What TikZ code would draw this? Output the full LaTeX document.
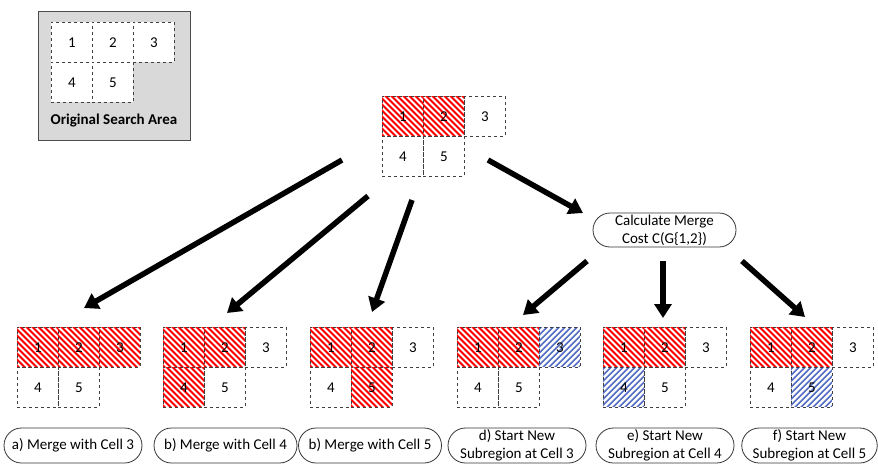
\documentclass[tikz,border=0pt]{standalone}
\usepackage{fontspec}
\setmainfont{Carlito}
\usetikzlibrary{arrows.meta,shapes.misc}
\newcommand\mygrid[8]{%
  \node[#4] (#1-1) at (#2,#3) {1};
  \node[#5] (#1-2) at (#2+41,#3) {2};
  \node[#6] (#1-3) at (#2+82,#3) {3};
  \node[#7] (#1-4) at (#2,#3+40) {4};
  \node[#8] (#1-5) at (#2+41,#3+40) {5};
}
\definecolor{hatchblue}{RGB}{85,110,195}
\begin{document}
\begin{tikzpicture}[x=1pt,y=-1pt,
  cell/.style={draw=black!75, dashed, line width=0.8pt, minimum width=41pt, minimum height=40pt,
    inner sep=0pt, anchor=north west, font=\fontsize{15}{18}\selectfont},
  wcell/.style={cell, fill=white},
  redcell/.style={cell, fill=red, path picture={
    \foreach \k in {-72,-66,...,72}
      \draw[white, line width=1.8pt, solid]
        ([xshift=\k pt]path picture bounding box.center) +(-32,-32) -- +(32,32);}},
  bluecell/.style={cell, fill=hatchblue, path picture={
    \foreach \k in {-72,-66,...,72}
      \draw[white, line width=2.3pt, solid]
        ([xshift=\k pt]path picture bounding box.center) +(-32,32) -- +(32,-32);}},
  lbl/.style={rounded rectangle, draw=black!80, line width=0.8pt, minimum width=140pt,
    minimum height=35pt, inner sep=1pt, align=center, font=\fontsize{15}{18}\selectfont},
  bigarrow/.style={line width=5.5pt, -{Triangle[width=17pt,length=14pt]}},
]
\useasboundingbox (0,0) rectangle (878,464);

% original search area
\node[draw=black!70, line width=1pt, fill=black!15, minimum width=152pt, minimum height=129pt,
  inner sep=0pt, anchor=north west] (orig) at (38,11) {};
\mygrid{o}{51}{22}{wcell}{wcell}{wcell}{wcell}{wcell}
\node[font=\fontsize{15}{18}\selectfont\bfseries] (origtxt) at (114,121) {Original Search Area};

% top grid
\mygrid{t}{382}{96}{redcell}{redcell}{cell}{cell}{cell}

% calculate box
\node[lbl, minimum width=145pt, minimum height=34pt] (calc) at (664.5,230) {Calculate Merge\\Cost C(G\{1,2\})};

% bottom grids
\mygrid{a}{17}{327}{redcell}{redcell}{redcell}{cell}{cell}
\mygrid{b}{163}{327}{redcell}{redcell}{cell}{redcell}{cell}
\mygrid{c}{310}{327}{redcell}{redcell}{cell}{cell}{redcell}
\mygrid{d}{457}{327}{redcell}{redcell}{bluecell}{cell}{cell}
\mygrid{e}{603}{327}{redcell}{redcell}{cell}{bluecell}{cell}
\mygrid{f}{750}{327}{redcell}{redcell}{cell}{cell}{bluecell}

% labels
\node[lbl] (la) at (73,445.5) {a) Merge with Cell 3};
\node[lbl, minimum width=145pt] (lb) at (225.5,445.5) {b) Merge with Cell 4};
\node[lbl, minimum width=145pt] (lc) at (370,445.5) {b) Merge with Cell 5};
\node[lbl] (ld) at (517,445.5) {d) Start New\\Subregion at Cell 3};
\node[lbl] (le) at (665,445.5) {e) Start New\\Subregion at Cell 4};
\node[lbl, minimum width=135pt] (lf) at (809.5,445.5) {f) Start New\\Subregion at Cell 5};

% arrows
\coordinate (sa) at (342,160); \coordinate (ea) at (84,308);
\coordinate (sb) at (368,196); \coordinate (eb) at (227,313);
\coordinate (sc) at (412,200); \coordinate (ec) at (372,312);
\coordinate (sk) at (488,160); \coordinate (ek) at (583,213);
\coordinate (sd) at (587,261); \coordinate (ed) at (523,315);
\coordinate (se) at (663,261); \coordinate (ee) at (663,318);
\coordinate (sf) at (742,261); \coordinate (ef) at (805,317);
\draw[bigarrow] (sa) -- (ea);
\draw[bigarrow] (sb) -- (eb);
\draw[bigarrow] (sc) -- (ec);
\draw[bigarrow] (sk) -- (ek);
\draw[bigarrow] (sd) -- (ed);
\draw[bigarrow] (se) -- (ee);
\draw[bigarrow] (sf) -- (ef);
\end{tikzpicture}
\end{document}
